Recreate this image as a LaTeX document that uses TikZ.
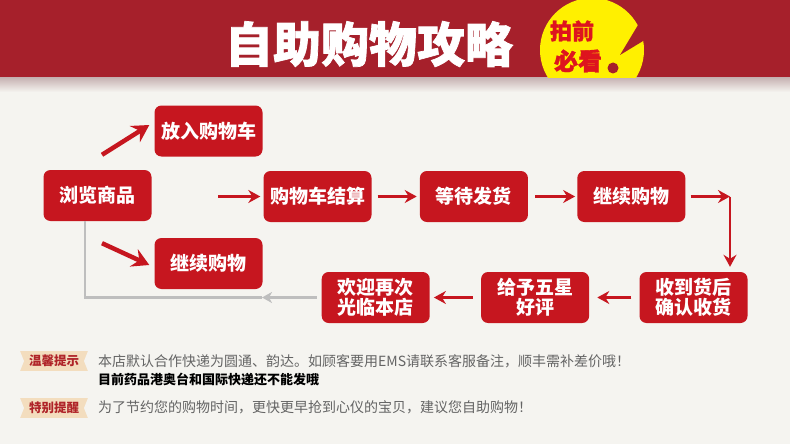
\documentclass[tikz,border=0pt]{standalone}
\usepackage{fontspec}
\setmainfont{Noto Sans CJK SC}
\newfontfamily\titlefont[BoldFeatures={FakeBold=1.5}]{Noto Sans CJK SC}
\usetikzlibrary{arrows.meta,positioning}
\definecolor{pagebg}{RGB}{245,244,240}
\definecolor{bandred}{RGB}{166,32,43}
\definecolor{boxred}{RGB}{198,22,31}
\definecolor{yel}{RGB}{255,240,0}
\definecolor{txtred}{RGB}{222,20,30}
\definecolor{shadowc}{RGB}{200,180,180}
\definecolor{badgebg}{RGB}{243,221,190}
\definecolor{badgetxt}{RGB}{175,35,40}
\definecolor{notegray}{RGB}{100,100,100}
\definecolor{linegray}{RGB}{190,190,190}

\begin{document}
\begin{tikzpicture}[x=1pt,y=-1pt,
  flow/.style={fill=boxred,rounded corners=7pt,text=white,align=center,minimum width=108pt,minimum height=51pt,inner sep=0pt,font=\fontsize{19}{20}\selectfont\bfseries},
  arr/.style={draw=boxred,line width=2.4pt,-{Stealth[length=12pt,width=13pt,inset=4pt]}},
  bigarr/.style={draw=boxred,line width=4.5pt,-{Stealth[length=17pt,width=19pt,inset=6pt]}},
  backln/.style={draw=linegray,line width=2.6pt},
  badge/.style={fill=badgebg,text=badgetxt,minimum width=68pt,minimum height=20pt,inner sep=0pt,font=\fontsize{12.5}{13}\selectfont\bfseries,
    path picture={\fill[pagebg] (path picture bounding box.north west) -- ([xshift=4pt]path picture bounding box.west) -- (path picture bounding box.south west) -- cycle;
      \fill[pagebg] (path picture bounding box.north east) -- ([xshift=-4pt]path picture bounding box.east) -- (path picture bounding box.south east) -- cycle;}},
  note/.style={anchor=west,inner sep=0pt,text=notegray,font=\fontsize{14}{15}\selectfont}]
\useasboundingbox (0,0) rectangle (790,444);
\fill[pagebg] (0,0) rectangle (790,444);
\fill[bandred] (0,0) rectangle (790,78);
\shade[top color=shadowc,bottom color=pagebg] (0,78) rectangle (790,92);
\begin{scope}
\clip (0,0) rectangle (790,78);
\fill[yel] (592,50) circle (52);
\fill[bandred] (641,20) -- (620,55) -- (648,38) -- cycle;
\end{scope}
\fill[bandred] (613,68) circle (5.5);
\node[text=white,font=\titlefont\bfseries\fontsize{48}{50}\selectfont] (title) at (369,44) {自助购物攻略};
\node[text=txtred,font=\titlefont\bfseries\fontsize{22}{24}\selectfont] (look1) at (572,31) {拍前};
\node[text=txtred,font=\titlefont\bfseries\fontsize{24}{26}\selectfont] (look2) at (578,61) {必看};

\node[flow] (browse) at (97.5,195.5) {浏览商品};
\node[flow] (cart) at (208.5,131) {放入购物车};
\node[flow] (cont1) at (208.5,263.5) {继续购物};
\node[flow] (settle) at (317.5,196.5) {购物车结算};
\node[flow,right=48pt of settle] (wait) {等待发货};
\node[flow,right=49pt of wait] (cont2) {继续购物};
\node[flow] (receive) at (693.5,297.5) {收到货后\\确认收货};
\node[flow,left=50pt of receive] (star) {给予五星\\好评};
\node[flow,left=51pt of star] (welcome) {欢迎再次\\光临本店};
\coordinate (corner) at (730,196.5);
\coordinate (graytip) at (262,297.5);
\coordinate (loopback) at (85,297.5);

\draw[bigarr] ([xshift=4.5pt,yshift=15pt]browse.north) -- ([xshift=-5pt,yshift=6pt]cart.west);
\draw[bigarr] ([xshift=4.5pt,yshift=-22pt]browse.south) -- ([xshift=-5pt,yshift=-1.5pt]cont1.west);
\draw[arr,shorten >=3pt] ([xshift=-45pt]settle.west) -- (settle.west);
\draw[arr,shorten <=6pt,shorten >=3pt] (settle) -- (wait);
\draw[arr,shorten <=7pt,shorten >=2pt] (wait) -- (cont2);
\draw[arr,shorten <=5pt] (cont2) -- (corner);
\draw[arr,shorten >=5pt] (corner) -- (corner |- receive.north);
\draw[arr,shorten <=8pt,shorten >=8pt] (receive) -- (star);
\draw[arr,shorten <=8pt,shorten >=4pt] (star) -- (welcome);
\draw[backln,-{Stealth[length=10pt,width=11pt,inset=3pt]}] ([xshift=-5pt]welcome.west) -- (graytip);
\draw[backln] (graytip) -- (loopback) -- (loopback |- browse.south);

\node[badge] (tip1) at (54,361) {温馨提示};
\node[badge] (tip2) at (54,408) {特别提醒};
\node[note] (note1) at (98,361) {本店默认合作快递为圆通、韵达。如顾客要用EMS请联系客服备注，顺丰需补差价哦！};
\node[note,text=black,font=\fontsize{13}{14}\selectfont\bfseries] (note2) at (98,379) {目前药品港奥台和国际快递还不能发哦};
\node[note] (note3) at (98,407) {为了节约您的购物时间，更快更早抢到心仪的宝贝，建议您自助购物！};
\end{tikzpicture}
\end{document}
